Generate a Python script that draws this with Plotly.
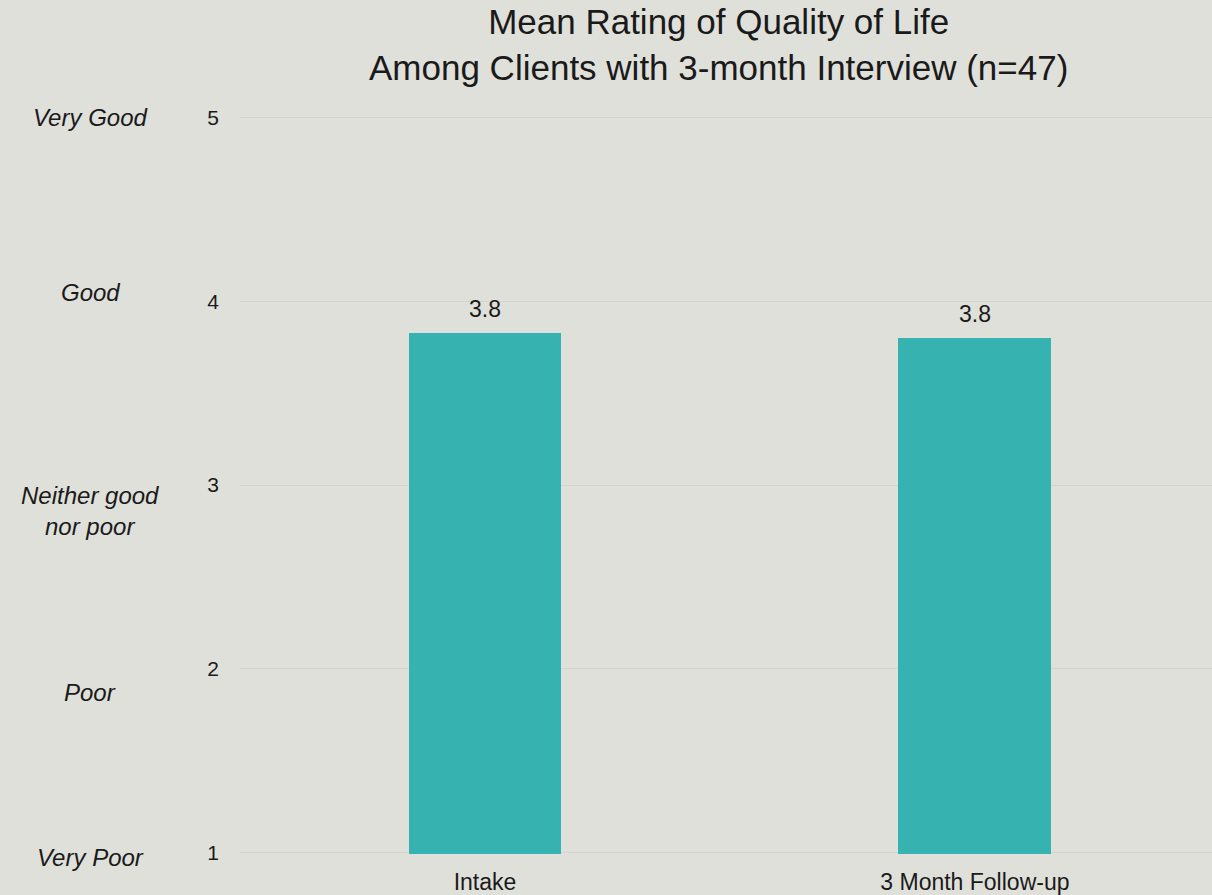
import plotly.graph_objects as go

# Mean quality-of-life ratings at each time point
timepoints = ["Intake", "3 Month Follow-up"]
mean_rating = [3.83, 3.80]

# Rating scale: numeric value and its verbal anchor
scale_values = [1, 2, 3, 4, 5]
scale_labels = ["Very Poor", "Poor", "Neither good<br>nor poor", "Good", "Very Good"]
label_y = [0.97, 1.87, 2.86, 4.05, 5.0]

BG = "#e0e0db"
TEAL = "#36b3b1"
INK = "#1a1a1a"
FONT = "Liberation Sans, Arial, sans-serif"
Y_RANGE = [0.99, 5.01]

fig = go.Figure()
fig.add_trace(go.Bar(
    x=timepoints,
    y=mean_rating,
    base=0,
    width=0.312,
    marker=dict(color=TEAL, line=dict(width=0)),
    hoverinfo="skip",
))

# value labels above bars
for t, v in zip(timepoints, mean_rating):
    fig.add_annotation(
        x=t, y=v, xref="x", yref="y",
        text=f"{v:.1f}", showarrow=False,
        yanchor="bottom", yshift=9,
        font=dict(size=23, color=INK, family=FONT),
    )

# verbal scale anchors on the far left (paper coords so the lowest one is not clipped)
for lab, yy in zip(scale_labels, label_y):
    fig.add_annotation(
        x=-0.154, y=(yy - Y_RANGE[0]) / (Y_RANGE[1] - Y_RANGE[0]),
        xref="paper", yref="paper",
        text=f"<i>{lab}</i>", showarrow=False,
        xanchor="center", yanchor="middle",
        font=dict(size=24, color=INK, family=FONT),
    )

# chart title
fig.add_annotation(
    x=0.4918, y=1.097, xref="paper", yref="paper",
    text="Mean Rating of Quality of Life<br>Among Clients with 3-month Interview (n=47)",
    showarrow=False, xanchor="center", yanchor="middle",
    font=dict(size=35, color=INK, family=FONT),
)

fig.update_layout(
    width=1212, height=895,
    paper_bgcolor=BG, plot_bgcolor=BG,
    margin=dict(l=240, r=0, t=116, b=39),
    showlegend=False,
    bargap=0,
    font=dict(family=FONT, color=INK),
)
fig.update_yaxes(
    range=Y_RANGE,
    tickvals=scale_values,
    ticktext=[str(v) for v in scale_values],
    tickfont=dict(size=21, color=INK),
    showgrid=True, gridcolor="#d4d4d0", gridwidth=1.3,
    zeroline=False, showline=False,
    ticks="", ticklabelstandoff=20,
)
fig.update_xaxes(
    range=[-0.5, 1.484],
    tickfont=dict(size=23, color=INK),
    showline=False, ticks="", showgrid=False,
    ticklabelstandoff=12,
)

fig.write_html("out.html")
